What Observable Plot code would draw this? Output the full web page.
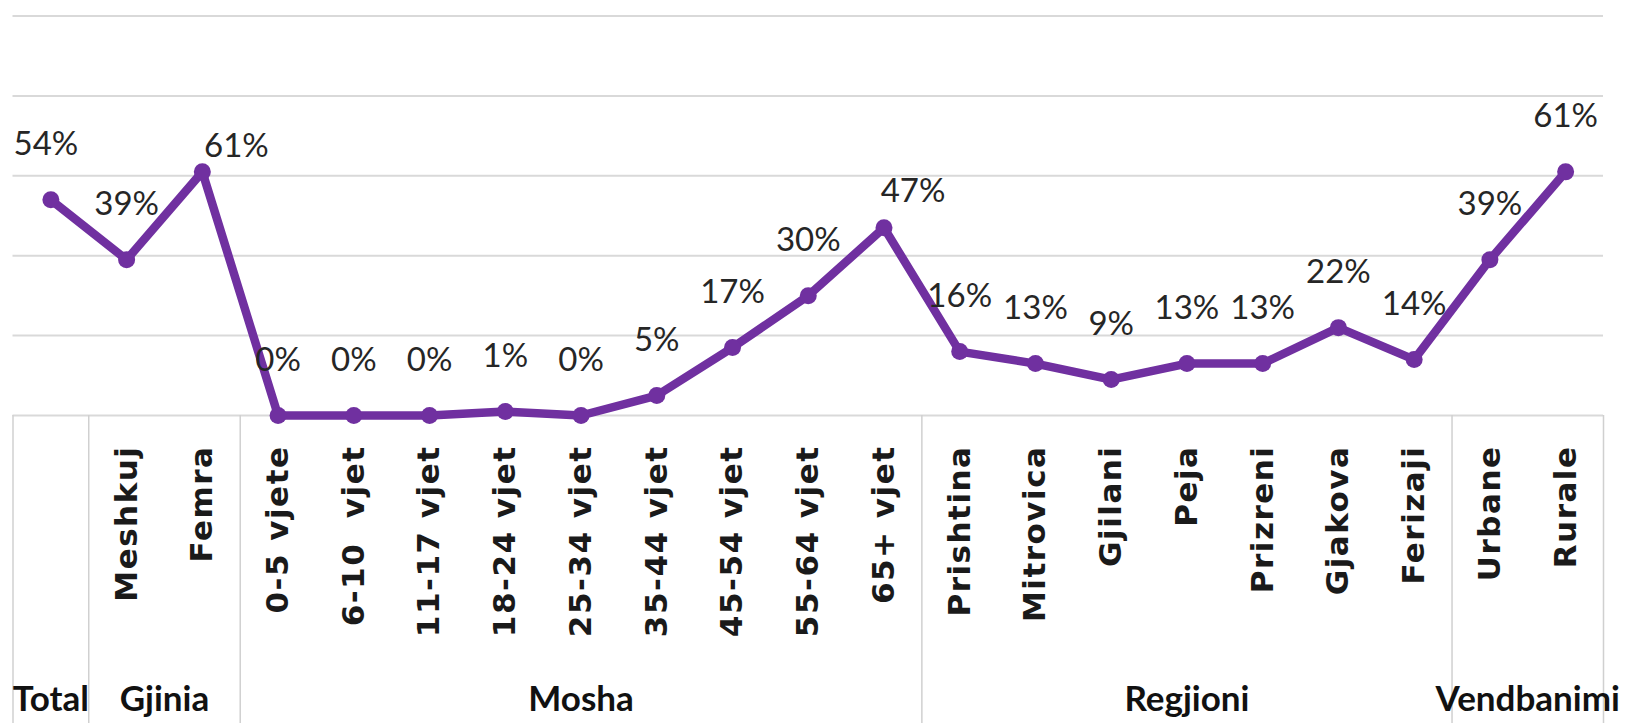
<!DOCTYPE html>
<html>
<head>
<meta charset="utf-8">
<script src="https://cdn.jsdelivr.net/npm/d3@7"></script>
<script src="https://cdn.jsdelivr.net/npm/@observablehq/plot@0.6"></script>
<style>
  html, body { margin: 0; padding: 0; background: #fff; }
  #chart svg { display: block; }
  .ticklab text { letter-spacing: 1.5px; white-space: pre; }
</style>
</head>
<body>
<div id="chart"></div>
<script>
const categories = ["Total","Meshkuj","Femra","0-5 vjete","6-10  vjet","11-17 vjet","18-24 vjet","25-34 vjet","35-44 vjet","45-54 vjet","55-64 vjet","65+ vjet","Prishtina","Mitrovica","Gjilani","Peja","Prizreni","Gjakova","Ferizaji","Urbane","Rurale"];
const tickLabels = ["","Meshkuj","Femra","0-5 vjete","6-10  vjet","11-17 vjet","18-24 vjet","25-34 vjet","35-44 vjet","45-54 vjet","55-64 vjet","65+ vjet","Prishtina","Mitrovica","Gjilani","Peja","Prizreni","Gjakova","Ferizaji","Urbane","Rurale"];
const values = [54,39,61,0,0,0,1,0,5,17,30,47,16,13,9,13,13,22,14,39,61];
const groups = ["Total","Gjinia","Mosha","Regjioni","Vendbanimi"];
const groupSizes = [1,2,9,7,2];
const gridTicks = [0,20,40,60,80,100];

const rows = categories.map((c, i) => ({i, c, t: tickLabels[i], v: values[i]}));
let acc = 0;
const groupRows = groups.map((g, k) => {
  const s = acc; acc += groupSizes[k];
  return {g, mid: (s + acc - 1) / 2, lo: s - 0.5, hi: acc - 0.5};
});
const bounds = [groupRows[0].lo, ...groupRows.map(d => d.hi)];

const W = 1632, H = 723, mL = 12.5, mR = 29, mT = 15.6, mB = 308;
const plotH = H - mT - mB;
const yFloor = -(mB / plotH) * 100;

const purple = "#7030a0";
const valueFont = {fontFamily: "Lato, 'Open Sans', sans-serif", fontSize: 33, fill: "#262626"};
const shifted = {"Total": [-5, -55], "Femra": [34, -25], "65+ vjet": [29, -36]};
const label = d => d.v + "%";

const chart = Plot.plot({
  width: W, height: H,
  marginLeft: mL, marginRight: mR, marginTop: mT, marginBottom: mB,
  x: {type: "linear", domain: [-0.5, categories.length - 0.5], axis: null},
  y: {type: "linear", domain: [0, 100], axis: null},
  style: {background: "#fff", overflow: "visible"},
  marks: [
    Plot.ruleY(gridTicks, {stroke: "#d9d9d9", strokeWidth: 2}),
    Plot.ruleX(bounds, {y1: 0, y2: yFloor, stroke: "#d0d0d0", strokeWidth: 1.5, clip: false}),
    Plot.line(rows, {x: "i", y: "v", stroke: purple, strokeWidth: 8.5, strokeLinejoin: "round", strokeLinecap: "round"}),
    Plot.dot(rows, {x: "i", y: "v", r: 8.5, fill: purple, stroke: "none"}),
    Plot.text(rows, {filter: d => !(d.c in shifted), x: "i", y: "v", text: label, dy: -55, ...valueFont}),
    ...Object.entries(shifted).map(([c, [dx, dy]]) =>
      Plot.text(rows, {filter: d => d.c === c, x: "i", y: "v", text: label, dx, dy, ...valueFont})),
    Plot.text(rows, {x: "i", y: 0, text: "t", rotate: -90, textAnchor: "end", dy: 30,
      fontFamily: "'DejaVu Sans', sans-serif", fontWeight: "bold", fontSize: 31, fill: "#1a1a1a", className: "ticklab"}),
    Plot.text(groupRows, {x: "mid", y: 0, text: "g", dy: 284,
      fontFamily: "Lato, 'Open Sans', sans-serif", fontWeight: "bold", fontSize: 35, fill: "#111"})
  ]
});
document.getElementById("chart").appendChild(chart);
</script>
</body>
</html>
